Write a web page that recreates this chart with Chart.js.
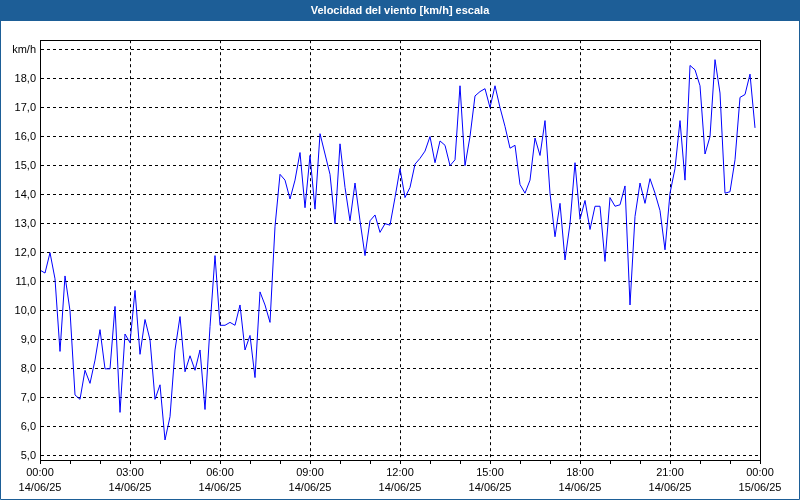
<!DOCTYPE html>
<html>
<head>
<meta charset="utf-8">
<script src="https://cdn.jsdelivr.net/npm/chart.js@4.4.0/dist/chart.umd.min.js"></script>
<style>
  html, body { margin: 0; padding: 0; background: #ffffff; }
  #wrap { width: 800px; height: 500px; position: relative; }
  canvas { display: block; }
</style>
</head>
<body>
<div id="wrap"><canvas id="myChart" width="800" height="500"></canvas></div>
<script>
// wind speed, one sample every 10 minutes, 14/06/25 00:00 -> 23:50
const speeds = [
  11.4, 11.3, 12.0, 11.1, 8.6, 11.2, 10.0, 7.1, 6.95, 7.95, 7.5, 8.3,
  9.35, 8.0, 8.0, 10.15, 6.5, 9.2, 8.9, 10.7, 8.5, 9.7, 9.0, 6.95,
  7.45, 5.55, 6.35, 8.65, 9.8, 7.9, 8.45, 7.95, 8.65, 6.6, 9.45, 11.9,
  9.5, 9.5, 9.6, 9.5, 10.2, 8.65, 9.15, 7.7, 10.65, 10.2, 9.6, 12.9,
  14.7, 14.5, 13.85, 14.5, 15.45, 13.55, 15.35, 13.5, 16.1, 15.4, 14.7, 13.0,
  15.75, 14.25, 13.1, 14.4, 13.1, 11.9, 13.1, 13.3, 12.7, 13.0, 12.95, 13.9,
  14.9, 13.9, 14.25, 15.05, 15.25, 15.5, 16.0, 15.1, 15.85, 15.7, 15.0, 15.2,
  17.75, 15.0, 16.0, 17.4, 17.55, 17.65, 17.0, 17.75, 17.0, 16.35, 15.6, 15.7,
  14.35, 14.05, 14.5, 15.95, 15.35, 16.55, 14.05, 12.55, 13.7, 11.75, 13.0, 15.1,
  13.15, 13.8, 12.8, 13.6, 13.6, 11.7, 13.9, 13.6, 13.65, 14.3, 10.2, 13.25,
  14.4, 13.7, 14.55, 14.05, 13.45, 12.1, 14.05, 14.9, 16.55, 14.5, 18.45, 18.3,
  17.75, 15.4, 16.0, 18.65, 17.5, 14.05, 14.1, 15.2, 17.35, 17.45, 18.15, 16.3
];

const hourLabels = ['00:00', '03:00', '06:00', '09:00', '12:00', '15:00', '18:00', '21:00', '00:00'];
const dateLabels = ['14/06/25', '14/06/25', '14/06/25', '14/06/25', '14/06/25', '14/06/25', '14/06/25', '14/06/25', '15/06/25'];
const yTicks = [5, 6, 7, 8, 9, 10, 11, 12, 13, 14, 15, 16, 17, 18, 19];

const titleBlue = '#1d5e97';

const points = speeds.map((v, i) => ({ x: i / 6, y: v }));

const frame = {
  id: 'frame',
  beforeDraw: (chart) => {
    const ctx = chart.ctx;
    ctx.save();
    ctx.fillStyle = '#ffffff';
    ctx.fillRect(0, 0, chart.width, chart.height);
    ctx.fillStyle = titleBlue;
    ctx.fillRect(0, 0, chart.width, 21);
    ctx.restore();
  },
  afterDraw: (chart) => {
    const ctx = chart.ctx;
    const a = chart.chartArea;
    ctx.save();
    ctx.strokeStyle = '#000000';
    ctx.lineWidth = 1;
    ctx.strokeRect(Math.round(a.left) + 0.5, Math.round(a.top) + 0.5,
      Math.round(a.right - a.left), Math.round(a.bottom - a.top));
    // window border
    ctx.strokeStyle = titleBlue;
    ctx.beginPath();
    ctx.moveTo(0.5, 0);
    ctx.lineTo(0.5, chart.height - 0.5);
    ctx.lineTo(chart.width - 0.5, chart.height - 0.5);
    ctx.lineTo(chart.width - 0.5, 0);
    ctx.stroke();
    ctx.restore();
  }
};

const config = {
  type: 'line',
  data: {
    datasets: [{
      data: points,
      borderColor: '#0000ff',
      borderWidth: 1,
      pointRadius: 0,
      tension: 0,
      fill: false
    }]
  },
  options: {
    responsive: false,
    animation: false,
    layout: { padding: 0 },
    plugins: {
      legend: { display: false },
      tooltip: { enabled: false },
      title: {
        display: true,
        text: 'Velocidad del viento [km/h] escala',
        color: '#ffffff',
        font: { family: 'Liberation Sans', size: 11, weight: 'bold', lineHeight: 1.2 },
        padding: { top: 4, bottom: 23 }
      }
    },
    scales: {
      x: {
        type: 'linear',
        min: 0,
        max: 24,
        afterBuildTicks: (scale) => {
          const t = [];
          for (let h = 0; h <= 24; h++) t.push({ value: h });
          scale.ticks = t;
        },
        afterFit: (scale) => { scale.height = 40; },
        ticks: {
          autoSkip: false,
          maxRotation: 0,
          padding: 2,
          color: '#000000',
          font: { family: 'Liberation Sans', size: 11, lineHeight: 1.35 },
          callback: (value) => {
            if (value % 3 !== 0) return '';
            const k = value / 3;
            return [hourLabels[k], dateLabels[k]];
          }
        },
        grid: {
          color: (c) => (c.tick && c.tick.value % 3 === 0 && c.tick.value > 0 && c.tick.value < 24) ? '#000000' : 'rgba(0,0,0,0)',
          tickColor: '#000000',
          tickLength: 4,
          lineWidth: 1
        },
        border: { display: true, color: '#000000', width: 1, dash: [3, 3] }
      },
      y: {
        min: 4.86,
        max: 19.32,
        afterBuildTicks: (scale) => {
          scale.ticks = yTicks.map(v => ({ value: v }));
        },
        afterFit: (scale) => { scale.width = 40; },
        ticks: {
          padding: 4,
          color: '#000000',
          font: { family: 'Liberation Sans', size: 11 },
          callback: (value) => value === 19 ? 'km/h' : value.toFixed(1).replace('.', ',')
        },
        grid: {
          color: '#000000',
          drawTicks: false,
          tickLength: 0,
          lineWidth: 1
        },
        border: { display: true, color: '#000000', width: 1, dash: [3, 3] }
      },
      // empty right margin, keeps the title centred on the whole window
      yRight: {
        position: 'right',
        min: 4.86,
        max: 19.32,
        afterFit: (scale) => { scale.width = 40; },
        ticks: { display: false },
        grid: { display: false },
        border: { display: false }
      }
    }
  },
  plugins: [frame]
};

const ctx = document.getElementById('myChart');
const myChart = new Chart(ctx, config);
</script>
</body>
</html>
